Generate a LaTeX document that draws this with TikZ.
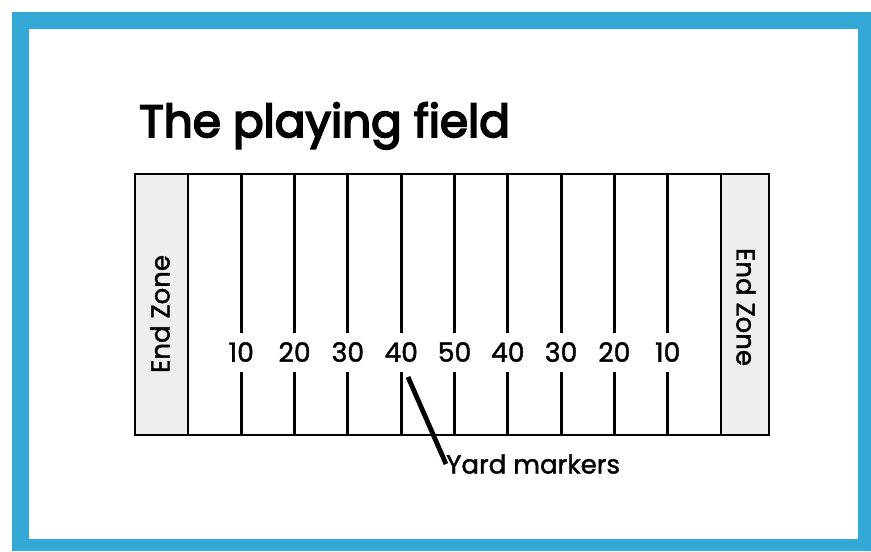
\documentclass[tikz,border=0pt]{standalone}
\usepackage{fontspec}
\setmainfont{Poppins}
\newfontfamily\titlefont[FakeBold=4]{Poppins}
\newfontfamily\medfont[FakeBold=1.5]{Poppins}
\definecolor{frameblue}{RGB}{52,168,214}
\definecolor{ezgray}{RGB}{238,238,238}
\begin{document}
\begin{tikzpicture}[x=0.75pt,y=-0.75pt,
  fieldline/.style={line width=2.2pt,black},
  yardline/.style={line width=2.2pt,black},
  numlabel/.style={font=\medfont\fontsize{20}{24}\selectfont,inner sep=0pt},
  ezlabel/.style={font=\medfont\fontsize{19.5}{22}\selectfont,inner sep=0pt},
  leader/.style={line width=3.6pt,black}]
\useasboundingbox (0,0) rectangle (871,551);
\fill[frameblue] (12,12) rectangle (871,551);
\fill[white] (29,29) rectangle (858,539);
% title
\node[anchor=base west,inner sep=0pt,font=\titlefont\fontsize{34}{40}\selectfont] (title) at (139,137) {The playing field};
% end zones
\fill[ezgray] (135,174) rectangle (188,435);
\fill[ezgray] (721,174) rectangle (769,435);
\node[ezlabel,rotate=90] (ezl) at (160,314) {End Zone};
\node[ezlabel,rotate=-90] (ezr) at (746,307) {End Zone};
% goal lines
\draw[yardline] (188,174) -- (188,435);
\draw[yardline] (721,174) -- (721,435);
% yard lines with numbers
\foreach \n [count=\i] in {10,20,30,40,50,40,30,20,10} {
  \pgfmathsetmacro{\xx}{188+53.3*\i}
  \node[numlabel] (num\i) at (\xx,352) {\n};
  \draw[yardline] (\xx,174) -- (\xx,333);
  \draw[yardline] (\xx,372) -- (\xx,435);
}
\draw[fieldline] (135,174) rectangle (769,435);
% leader
\node[anchor=west,inner sep=0pt,font=\medfont\fontsize{19.5}{22}\selectfont] (ym) at (446,464) {Yard markers};
\coordinate (lead) at (408,377);
\draw[leader] (lead) -- (ym.west);
\end{tikzpicture}
\end{document}
